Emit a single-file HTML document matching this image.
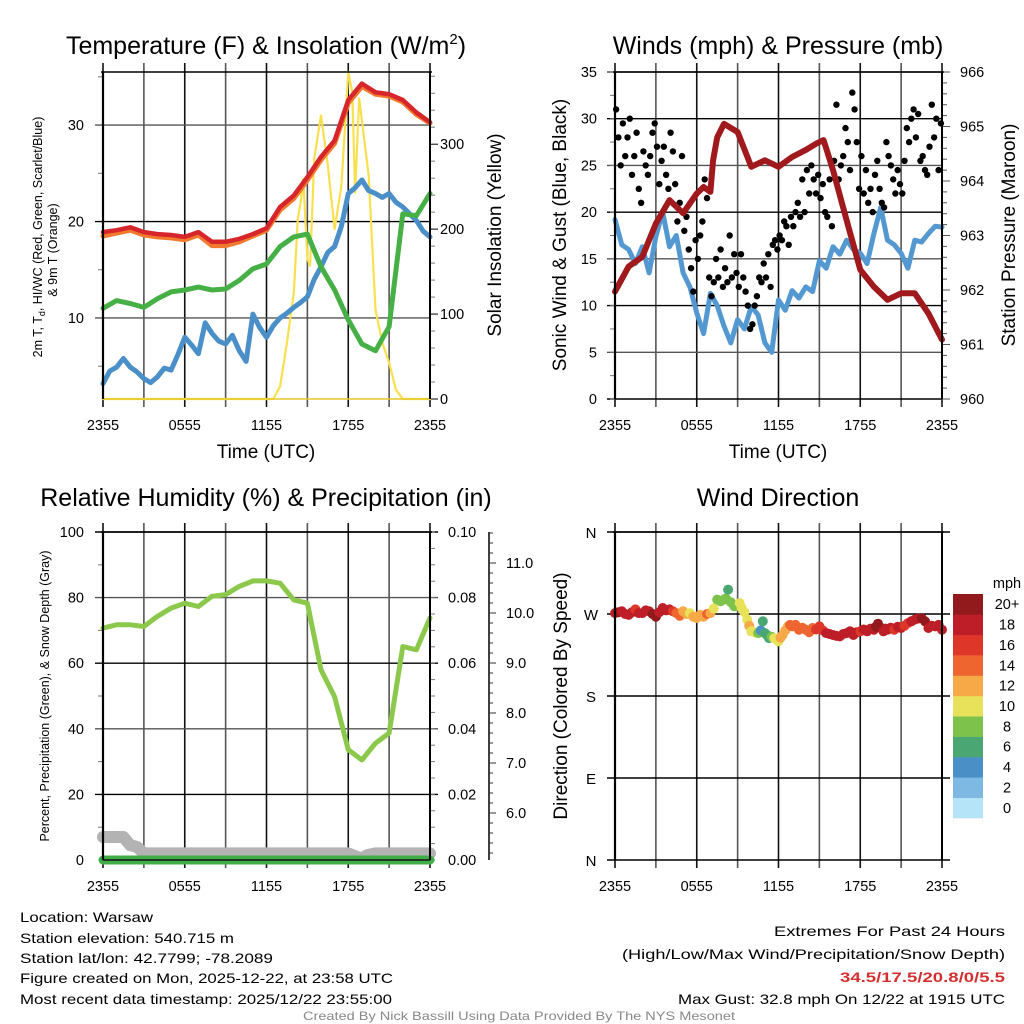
<!DOCTYPE html>
<html><head><meta charset="utf-8"><style>
html,body{margin:0;padding:0;background:#fff;}
svg{display:block;font-family:"Liberation Sans",sans-serif;}
</style></head><body>
<svg id="fig" width="1024" height="1024" viewBox="0 0 1024 1024" xmlns="http://www.w3.org/2000/svg">
<rect x="0" y="0" width="1024" height="1024" fill="#fff"/>
<text x="266" y="54" font-size="25" text-anchor="middle">Temperature (F) &amp; Insolation (W/m<tspan font-size="15" dy="-10">2</tspan><tspan dy="10">)</tspan></text>
<text x="778" y="54" font-size="25" text-anchor="middle">Winds (mph) &amp; Pressure (mb)</text>
<text x="266" y="506" font-size="25" text-anchor="middle">Relative Humidity (%) &amp; Precipitation (in)</text>
<text x="778" y="506" font-size="25" text-anchor="middle">Wind Direction</text>

<text transform="translate(42,237) rotate(-90)" font-size="12.5" text-anchor="middle">2m T, T<tspan font-size="9" dy="3">d</tspan><tspan dy="-3">, HI/WC (Red, Green, Scarlet/Blue)</tspan></text>
<text transform="translate(57,250) rotate(-90)" font-size="12.5" text-anchor="middle">&amp; 9m T (Orange)</text>
<text transform="translate(501,235) rotate(-90)" font-size="19" text-anchor="middle">Solar Insolation (Yellow)</text>
<text x="266" y="458" font-size="19" text-anchor="middle">Time (UTC)</text>
<text transform="translate(566,235) rotate(-90)" font-size="19" text-anchor="middle">Sonic Wind &amp; Gust (Blue, Black)</text>
<text transform="translate(1015,235) rotate(-90)" font-size="19" text-anchor="middle">Station Pressure (Maroon)</text>
<text x="778" y="458" font-size="19" text-anchor="middle">Time (UTC)</text>
<text transform="translate(49,696) rotate(-90)" font-size="12.5" text-anchor="middle">Percent, Precipitation (Green), &amp; Snow Depth (Gray)</text>
<text transform="translate(567,696) rotate(-90)" font-size="19" text-anchor="middle">Direction (Colored By Speed)</text>

<g font-size="14">
<text x="20" y="922" textLength="133" lengthAdjust="spacingAndGlyphs">Location: Warsaw</text>
<text x="20" y="943" textLength="214" lengthAdjust="spacingAndGlyphs">Station elevation: 540.715 m</text>
<text x="20" y="963" textLength="253" lengthAdjust="spacingAndGlyphs">Station lat/lon: 42.7799; -78.2089</text>
<text x="20" y="983" textLength="373" lengthAdjust="spacingAndGlyphs">Figure created on Mon, 2025-12-22, at 23:58 UTC</text>
<text x="20" y="1004" textLength="372" lengthAdjust="spacingAndGlyphs">Most recent data timestamp: 2025/12/22 23:55:00</text>
<text x="1005" y="936" text-anchor="end" textLength="231" lengthAdjust="spacingAndGlyphs">Extremes For Past 24 Hours</text>
<text x="1005" y="959" text-anchor="end" textLength="383" lengthAdjust="spacingAndGlyphs">(High/Low/Max Wind/Precipitation/Snow Depth)</text>
<text x="1005" y="982" text-anchor="end" font-weight="bold" fill="#d32f2f" textLength="165" lengthAdjust="spacingAndGlyphs">34.5/17.5/20.8/0/5.5</text>
<text x="1005" y="1004" text-anchor="end" textLength="327" lengthAdjust="spacingAndGlyphs">Max Gust: 32.8 mph On 12/22 at 1915 UTC</text>
<text x="519" y="1020" text-anchor="middle" font-size="12" fill="#888" textLength="432" lengthAdjust="spacingAndGlyphs">Created By Nick Bassill Using Data Provided By The NYS Mesonet</text>
</g>
</svg>
<script>
// ---------- DATA ----------
const hours = [0,1,2,3,4,5,6,7,8,9,10,11,12,13,14,15,16,17,18,19,20,21,22,23,24];
const timeTickLabels = ["2355","0555","1155","1755","2355"];
const tempAir = [18.9,19.1,19.4,18.9,18.7,18.6,18.4,18.9,17.9,17.9,18.2,18.7,19.3,21.5,22.7,24.6,26.7,28.4,32.6,34.3,33.4,33.2,32.6,31.3,30.3];
const temp9m = [18.5,18.8,19.1,18.6,18.4,18.3,18.1,18.6,17.5,17.5,17.9,18.5,19.1,21.2,22.4,24.3,26.4,28.1,32.3,34.0,33.2,33.0,32.4,31.1,30.2];
const dewpoint = [11.0,11.8,11.5,11.1,12.0,12.7,12.9,13.2,12.9,13.0,13.9,15.1,15.6,17.4,18.4,18.7,15.3,12.9,9.8,7.3,6.6,9.1,20.8,20.6,22.9];
const halfHours = [0,0.5,1,1.5,2,2.5,3,3.5,4,4.5,5,5.5,6,6.5,7,7.5,8,8.5,9,9.5,10,10.5,11,11.5,12,12.5,13,13.5,14,14.5,15,15.5,16,16.5,17,17.5,18,18.5,19,19.5,20,20.5,21,21.5,22,22.5,23,23.5,24];
const windChill = [3.2,4.5,4.9,5.8,4.9,4.4,3.7,3.3,3.9,4.8,4.6,6.2,8.0,7.2,6.3,9.5,8.4,7.6,7.3,8.2,6.6,5.5,10.4,9.0,8.0,9.2,10.0,10.5,11.1,11.6,12.2,14.0,15.3,16.8,17.4,19.5,22.9,23.5,24.3,23.2,22.9,22.5,22.9,22.0,21.5,20.8,20.1,19.0,18.4];
const solarTimes = [0,12.5,13,13.5,14,14.3,14.5,14.7,15,15.2,15.5,16,16.5,17,17.5,18,18.3,18.5,18.8,19.5,20,20.5,21,21.5,22,24];
const solarValues = [0,0,15,66,125,212,231,259,165,157,283,334,275,200,251,385,361,243,354,263,105,66,43,11,0,0];
const tempTicks = [10,20,30];
const solarTicks = [0,100,200,300];

const windSpeed = [19.2,16.5,16.0,14.5,16.3,13.5,17.4,20.0,16.3,17.5,13.5,12.0,9.2,7.0,11.3,10.0,7.8,6.0,8.5,7.5,9.9,9.0,6.0,5.0,10.6,9.5,11.6,10.8,12.0,11.5,14.8,14.0,16.3,15.5,17.0,16.0,15.6,14.5,17.7,20.5,17.0,16.5,15.6,14.0,17.0,16.8,17.7,18.5,18.4];
const gustValues = [31,28,25,29.5,26,28, 30,24,26,28.5,22.5,21, 26.5,25,24,26,28.5,29.5, 27,23,25.5,27,24,22.5,
 28.5,26.5,23,19,21,26, 18,19.5,16,14,11.5,17, 15,17.5,19,23.5,21.5,13, 11,12.5,15,13,16,12,
 14,12.5,17.5,13,15.5,13.5, 12,15.5,13,11.5,10,7.5, 8,10,11,13,12.5,14.5, 13,15.5,12,16.5,17,16,
 17.5,17,19,18.5,16.5,19.5, 18.5,20,21,19.5,23.5,20, 24.5,22,25,23.5,22,24, 21.5,23,20,19.5,23.5,18.5,
 25.5,31.5,23.5,25,26,29, 27.5,24.5,32.8,31,27.5,22.5, 26,22,24.5,21,22.5,20, 24,25.5,22.5,21,20.5,27.5,
 26,25,23.5,22,24.5,23, 22,25.5,29,27.5,30,31, 28,30.5,25.5,26,24.5,24, 27,31.5,28,30,24.5,29.5];
const pressTimes = [0,1,2,3,4,5,6,6.5,7,7.2,7.5,8,9,10,11,12,13,14,14.8,15.3,15.5,16,17,18,19,20,21,22,23,24];
const pressValues = [961.97,962.43,962.61,963.22,963.65,963.41,963.77,963.89,963.8,964.38,964.8,965.05,964.9,964.26,964.38,964.26,964.44,964.57,964.69,964.75,964.6,964.2,963.28,962.37,962.06,961.82,961.94,961.94,961.57,961.09];
const windTicks = [0,5,10,15,20,25,30,35];
const pressTicks = [960,961,962,963,964,965,966];

const rhValues = [70.7,71.7,71.7,71.2,74.3,76.8,78.3,77.3,80.4,80.9,83.4,85.1,85.1,84.4,79.3,78.3,58.0,49.8,33.6,30.5,35.6,38.7,65.1,64.1,73.8];
const snowTimes = [0,1,1.5,2,2.5,3,6,12,18,18.6,19,19.4,20,24];
const snowValues = [7,7,7,4.5,4,2,2,2,2,1,0.5,1.5,2,2];
const precipValues = [0,0,0,0,0,0,0,0,0,0,0,0,0,0,0,0,0,0,0,0,0,0,0,0,0];
const rhTicks = [0,20,40,60,80,100];
const precipTicks = ["0.00","0.02","0.04","0.06","0.08","0.10"];
const snowAxisTicks = [6,7,8,9,10,11];

const dirTimes = [0,0.25,0.5,0.75,1,1.25,1.5,1.75,2,2.25,2.5,2.75,3,3.25,3.5,3.75,4,4.25,4.5,4.75,5,5.25,5.5,5.75,6,6.25,6.5,6.75,7,7.25,7.5,7.75,8,8.15,8.3,8.5,8.75,9,9.15,9.3,9.5,9.7,9.85,10,10.25,10.5,10.7,10.85,11,11.15,11.3,11.5,11.7,11.85,12,12.15,12.3,12.5,12.7,12.85,13,13.25,13.5,13.75,14,14.25,14.5,14.75,15,15.25,15.5,15.75,16,16.25,16.5,16.75,17,17.25,17.5,17.75,18,18.25,18.5,18.75,19,19.15,19.3,19.5,19.7,19.85,20,20.25,20.5,20.75,21,21.25,21.5,21.75,22,22.25,22.5,22.75,23,23.25,23.5,23.75,24];
const dirValues = [271,272,273,270,269,272,275,271,271,274,273,270,267,272,276.6,274,275,273,271,268,273,270,271,267,265.6,269,267,270,271,276,285.8,284,285.8,287,296.8,283,278.4,280,282,276.6,272,263.8,257,251,250,249,252,262,249,247,243.6,245,243.6,242,240,244,247,252,256.4,258,256.4,258,252.8,255,252.8,250,254.6,253,256.4,252,249,248,247,246,245.4,248,249,251,247,250,251,253,251,254,252.8,256,259.4,255,251,254,252.8,255,252.8,256,254.6,257,260,262,263.8,265,265.6,262,254.6,257,256.4,258,252.8];
const dirSpeeds = [18,19,17,18,18,17,16,17,17,18,18,19,19,18,18,18,17,16,14,13,12,11,10,11,11,12,12,13,12,10,8,8,7,7,6,8,8,8,9,10,10,10,11,10,9,7,4,5,6,6,6,8,9,10,10,11,12,12,12,13,13,13,13,14,13,14,14,15,15,16,17,17,17,17,18,17,17,18,17,17,16,17,18,18,18,20,20,19,17,18,18,17,16,17,17,16,16,17,18,18,19,20,18,18,18,18,17];
const dirTickLabels = ["N","E","S","W","N"];
const speedBins = ["0","2","4","6","8","10","12","14","16","18","20+"];
const speedColors = ["#b5e3f7","#7db9e3","#4a8fc6","#4aa673","#7cc24b","#e8e25a","#f6a946","#ef6530","#de3629","#be1e27","#92191c"];

// ---------- HELPERS ----------
const NS = "http://www.w3.org/2000/svg";
const svg = document.getElementById('fig');
function mk(tag, attrs, parent){
  const el = document.createElementNS(NS, tag);
  for (const k in attrs) el.setAttribute(k, attrs[k]);
  (parent||svg).appendChild(el);
  return el;
}
function lin(d0,d1,r0,r1){ return v => r0 + (v-d0)*(r1-r0)/(d1-d0); }

function panelFrame(P, name){
  const g = mk('g', {});
  
  
  for (let h=0; h<=24; h+=3){
    const x = P.x(h);
    const l = mk('line', {x1:x, x2:x, y1:P.y0-9, y2:P.y1+8, stroke:(h%6===0?'#111':'#555'), 'stroke-width':1.6}, g);
    
    
  }
  for (let i=0;i<timeTickLabels.length;i++){
    const t = mk('text', {x:P.x(i*6), y:P.labY, 'font-size':14.5, 'text-anchor':'middle'}, g);
    t.textContent = timeTickLabels[i];
    
    
  }
  return g;
}
function hline(g, y, x0, x1, color, w, name){
  const l = mk('line', {x1:x0, x2:x1, y1:y, y2:y, stroke:color, 'stroke-width':w}, g);
  
  
  return l;
}
function label(g, x, y, txt, anchor, name, size){
  const t = mk('text', {x:x, y:y, 'font-size':size||14.5, 'text-anchor':anchor}, g);
  t.textContent = txt;
  
  
  return t;
}
function path(g, xs, ys, P, ysc, color, w, name){
  let d = '';
  for (let i=0;i<xs.length;i++) d += (i?'L':'M') + P.x(xs[i]).toFixed(1) + ',' + ysc(ys[i]).toFixed(1);
  const p = mk('path', {d:d, fill:'none', stroke:color, 'stroke-width':w, 'stroke-linejoin':'round', 'stroke-linecap':'round'}, g);
  
  
  return p;
}
function borders(g, P){
  const l1 = mk('line', {x1:P.x0, x2:P.x0, y1:P.y0, y2:P.y1, stroke:'#000', 'stroke-width':2.2}, g);
  
  
  const l2 = mk('line', {x1:P.x1, x2:P.x1, y1:P.y0, y2:P.y1, stroke:'#000', 'stroke-width':2}, g);
  
  
  hline(g, P.y0, P.x0-2, P.x1+2, '#000', 1.5, 'top-axis-line');
}

// ---------- PANEL 1: Temperature ----------
{
  const P = {x0:103, x1:430, y0:72, y1:399, labY:430};
  P.x = lin(0,24,P.x0,P.x1);
  const yT = lin(1.6,35.5,P.y1,P.y0);
  const yS = lin(0,385,P.y1,P.y0);
  const g = panelFrame(P, 'temperature-panel');
  tempTicks.forEach(v => { hline(g, yT(v), P.x0-8, P.x1, (v===20?'#000':'#555'), 1.4, 'temp-grid-line'); label(g, 84, yT(v)+5, String(v), 'end', 'temp-tick-label'); });
  [5,15,25,35].forEach(v => hline(g, yT(v), P.x0-5, P.x0, '#777', 1, 'temp-minor-tick'));
  for (let v=0; v<=380; v+=20) hline(g, yS(v), P.x1, P.x1+(v%100===0?8:5), v%100===0?'#000':'#777', 1, 'solar-tick');
  solarTicks.forEach(v => label(g, 440, yS(v)+5, String(v), 'start', 'solar-tick-label'));
  path(g, solarTimes, solarValues, P, yS, '#f9e04f', 2.2, 'solar-insolation-line');
  path(g, halfHours, windChill, P, yT, '#4b8fc9', 5, 'wind-chill-line');
  path(g, hours, dewpoint, P, yT, '#46b046', 5, 'dewpoint-line');
  path(g, hours, temp9m, P, yT, '#f27a2e', 5, 'temp-9m-line');
  path(g, hours, tempAir, P, yT, '#d7262b', 4.5, 'temp-2m-line');
  hline(g, P.y1, P.x0, P.x1, '#e6c72c', 1.5, 'solar-zero-line');
  borders(g, P);
}
// ---------- PANEL 2: Wind & Pressure ----------
{
  const P = {x0:615, x1:942, y0:72, y1:399, labY:430};
  P.x = lin(0,24,P.x0,P.x1);
  const yW = lin(0,35,P.y1,P.y0);
  const yP = lin(960,966,P.y1,P.y0);
  const g = panelFrame(P, 'wind-panel');
  windTicks.forEach(v => { hline(g, yW(v), P.x0-8, P.x1, (v%10===0?'#000':'#555'), 1.4, 'wind-grid-line'); label(g, 597, yW(v)+5, String(v), 'end', 'wind-tick-label'); });
  for (let v=0; v<=35; v+=2.5) hline(g, yW(v), P.x0-5, P.x0, '#777', 1, 'wind-minor-tick');
  for (let v=960; v<=966.001; v+=0.2) hline(g, yP(v), P.x1, P.x1+(Math.abs(v-Math.round(v))<0.01?8:5), '#555', 1, 'pressure-tick');
  pressTicks.forEach(v => label(g, 960, yP(v)+5, String(v), 'start', 'pressure-tick-label'));
  path(g, halfHours, windSpeed, P, yW, '#5498d2', 5, 'sonic-wind-line');
  for (let i=0;i<gustValues.length;i++){
    const c = mk('circle', {cx:P.x(i/6+1/12).toFixed(1), cy:yW(gustValues[i]).toFixed(1), r:3.2, fill:'#000'}, g);
    
    
  }
  path(g, pressTimes, pressValues, P, yP, '#a01a1d', 6, 'pressure-line');
  borders(g, P);
}
// ---------- PANEL 3: RH ----------
{
  const P = {x0:103, x1:430, y0:532, y1:860, labY:891};
  P.x = lin(0,24,P.x0,P.x1);
  const yR = lin(0,100,P.y1,P.y0);
  const g = panelFrame(P, 'humidity-panel');
  rhTicks.forEach(v => { if (v>0 && v<100) hline(g, yR(v), P.x0-8, P.x1+8, (v%40===0?'#555':'#000'), 1.4, 'rh-grid-line'); label(g, 84, yR(v)+5, String(v), 'end', 'rh-tick-label'); });
  hline(g, yR(100), P.x0-8, P.x1+8, '#000', 1.4, 'rh-grid-line');
  for (let v=0; v<=100; v+=5) hline(g, yR(v), P.x1, P.x1+5, '#777', 1, 'precip-minor-tick');
  for (let v=10; v<=90; v+=20) hline(g, yR(v), P.x0-5, P.x0, '#777', 1, 'rh-minor-tick');
  precipTicks.forEach((t,i) => label(g, 448, yR(i*20)+5, t, 'start', 'precip-tick-label'));
  const yD = lin(10,11,613,563);
  const ax = mk('line', {x1:489, x2:489, y1:532, y2:860, stroke:'#000', 'stroke-width':1.5}, g);
  
  
  for (let v=5.2; v<=11.8; v+=0.2){ const y=yD(v); if (y>=532 && y<=860) hline(g, y, 489, 489+(Math.abs(v-Math.round(v))<0.01?7:4), '#333', 1, 'snow-axis-tick'); }
  snowAxisTicks.forEach(v => label(g, 506, yD(v)+5, v.toFixed(1), 'start', 'snow-tick-label'));
  path(g, snowTimes, snowValues, P, yR, '#b3b3b3', 12, 'snow-depth-line');
  path(g, hours, precipValues, P, yR, '#3fae49', 9, 'precipitation-line');
  path(g, hours, rhValues, P, yR, '#8cc84b', 5, 'relative-humidity-line');
  hline(g, P.y1, P.x0, P.x1, '#111', 1.5, 'rh-zero-line');
  borders(g, P);
}
// ---------- PANEL 4: Wind Direction ----------
{
  const P = {x0:615, x1:942, y0:532, y1:860, labY:891};
  P.x = lin(0,24,P.x0,P.x1);
  const yD = lin(0,360,P.y1,P.y0);
  const g = panelFrame(P, 'direction-panel');
  dirTickLabels.forEach((t,i) => { hline(g, yD(i*90), P.x0-8, P.x1+8, '#000', 1.4, 'direction-grid-line'); label(g, 591, yD(i*90)+6, t, 'middle', 'direction-tick-label', 15); });
  const binIdx = s => Math.min(10, Math.max(0, Math.round(s/2)));
  for (let i=0;i<dirTimes.length;i++){
    const c = mk('circle', {cx:P.x(dirTimes[i]).toFixed(1), cy:yD(dirValues[i]).toFixed(1), r:5, fill:speedColors[binIdx(dirSpeeds[i])]}, g);
    
    
  }
  const cb = mk('g', {});
  
  
  const bh = (818-594)/speedBins.length;
  for (let i=0;i<speedBins.length;i++){
    const y = 818 - (i+1)*bh;
    const r = mk('rect', {x:953, y:y.toFixed(1), width:30, height:(bh+0.3).toFixed(1), fill:speedColors[i]}, cb);
    
    
    label(cb, 1007, y + bh/2 + 5, speedBins[i], 'middle', 'colorbar-label', 14.5);
  }
  label(cb, 1007, 588, 'mph', 'middle', 'colorbar-title', 14.5);
  borders(g, P);
}
</script>
</body></html>
